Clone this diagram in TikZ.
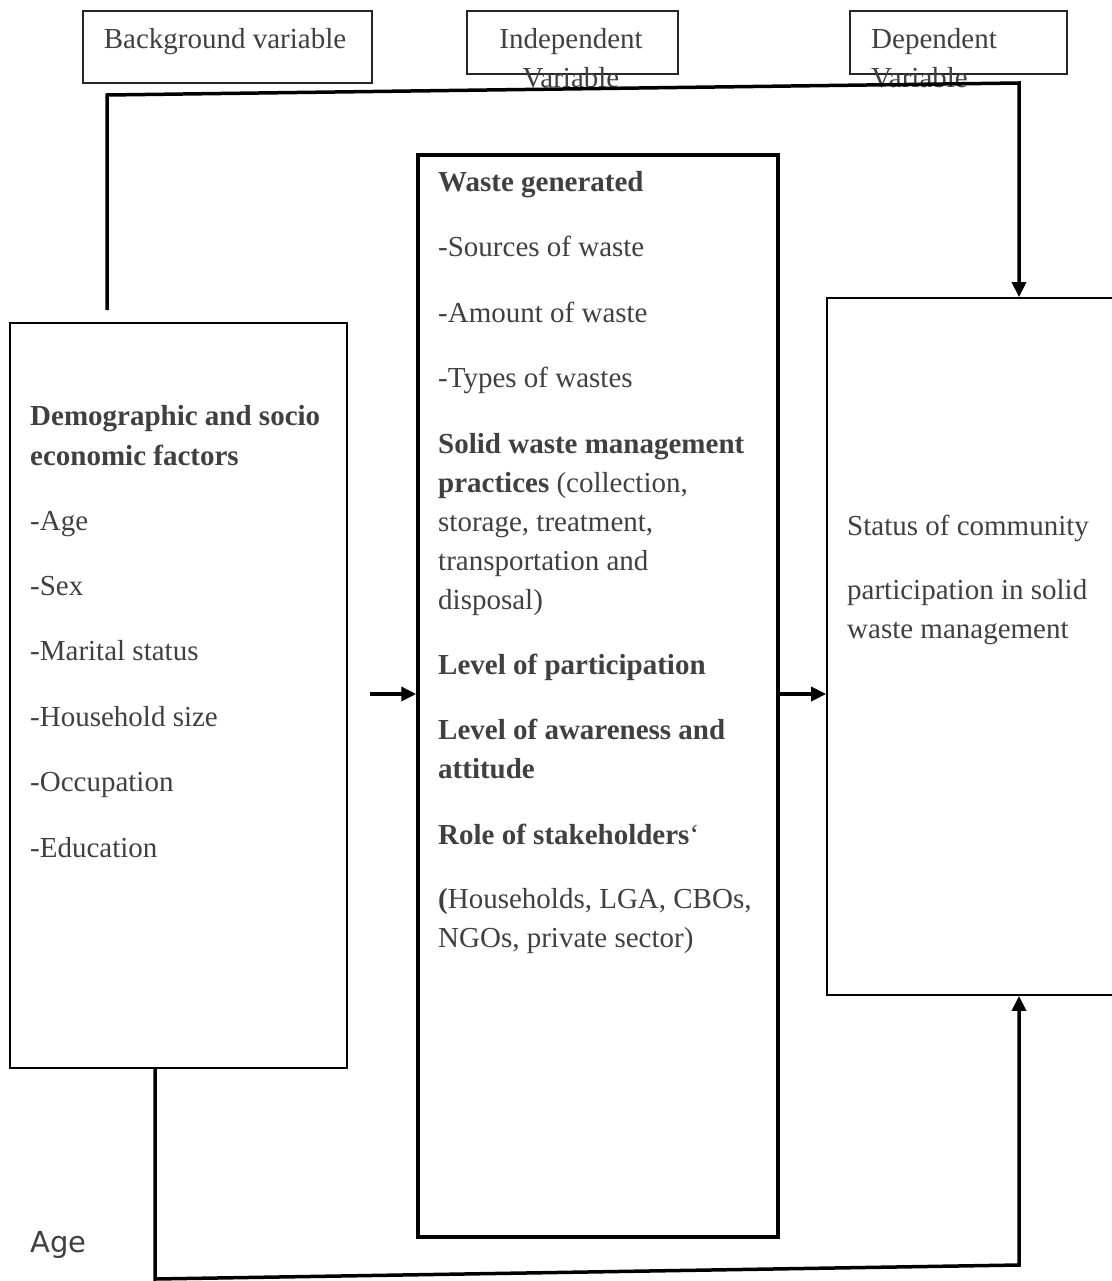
\documentclass[tikz,border=0pt]{standalone}
\usepackage{fontspec}
\setmainfont{Liberation Serif}
\newfontfamily\agefont{DejaVu Sans}
\usetikzlibrary{arrows.meta}
\definecolor{txt}{RGB}{64,64,64}
\begin{document}
\begin{tikzpicture}[x=1pt,y=-1pt,
  box/.style={draw=black,line width=1.8pt,fill=none,inner sep=0pt},
  hbox/.style={draw=black!85,line width=1.6pt,inner sep=0pt},
  midbox/.style={draw=black,line width=3.5pt,inner sep=0pt},
  conn/.style={draw=black,line width=3.5pt},
  arr/.style={conn,-{Triangle[length=15pt,width=14pt]}},
  tl/.style={anchor=base west,inner sep=0pt,text=txt,font=\fontsize{29}{39}\selectfont},
  tc/.style={anchor=base,inner sep=0pt,text=txt,font=\fontsize{29}{39}\selectfont}]
\useasboundingbox[fill=white] (0,0) rectangle (1111,1281);

% header boxes
\node[hbox,minimum width=289pt,minimum height=72pt] (hbg) at (227.5,47) {};
\node[hbox,minimum width=211pt,minimum height=63pt] (hind) at (572.5,42.5) {};
\node[hbox,minimum width=217pt,minimum height=63pt] (hdep) at (958.5,42.5) {};
\node[tc] (hbgt) at (225,49) {Background variable};
\node[tc] (hind1) at (571,49) {Independent};
\node[tc] (hind2) at (571,88) {Variable};
\node[tl] (hdep1) at (871,49) {Dependent};
\node[tl] (hdep2) at (871,88) {Variable};

% main boxes
\node[box,minimum width=337pt,minimum height=745pt] (left) at (178.5,695.5) {};
\node[midbox,minimum width=360pt,minimum height=1082pt] (mid) at (598,696) {};
\node[box,minimum width=313pt,minimum height=697pt] (right) at (983.5,646.5) {};

% left texts
\node[tl] (l1) at (30,425) {\textbf{Demographic and socio}};
\node[tl] (l2) at (30,465) {\textbf{economic factors}};
\node[tl] (l3) at (30,530) {-Age};
\node[tl] (l4) at (30,595) {-Sex};
\node[tl] (l5) at (30,660) {-Marital status};
\node[tl] (l6) at (30,726) {-Household size};
\node[tl] (l7) at (30,791) {-Occupation};
\node[tl] (l8) at (30,857) {-Education};

% middle texts
\node[tl] (m1) at (438,192) {\textbf{Waste generated}};
\node[tl] (m2) at (438,257) {-Sources of waste};
\node[tl] (m3) at (438,322) {-Amount of waste};
\node[tl] (m4) at (438,387) {-Types of wastes};
\node[tl] (m5) at (438,453) {\textbf{Solid waste management}};
\node[tl] (m6) at (438,492) {\textbf{practices} (collection,};
\node[tl] (m7) at (438,531) {storage, treatment,};
\node[tl] (m8) at (438,570) {transportation and};
\node[tl] (m9) at (438,609) {disposal)};
\node[tl] (m10) at (438,674) {\textbf{Level of participation}};
\node[tl] (m11) at (438,739) {\textbf{Level of awareness and}};
\node[tl] (m12) at (438,778) {\textbf{attitude}};
\node[tl] (m13) at (438,844) {\textbf{Role of stakeholders}‘};
\node[tl] (m14) at (438,908) {\textbf{(}Households, LGA, CBOs,};
\node[tl] (m15) at (438,947) {NGOs, private sector)};

% right texts
\node[tl] (r1) at (847,535) {Status of community};
\node[tl] (r2) at (847,599) {participation in solid};
\node[tl] (r3) at (847,638) {waste management};

% stray label
\node[anchor=base west,inner sep=0pt,text=txt,font=\agefont\fontsize{29}{34}\selectfont] (age) at (30,1252) {Age};

% connectors
\coordinate (topstart) at (107,310);
\coordinate (tc1) at (107,95);
\coordinate (tc2) at (1019,83);
\coordinate (lin) at (370,694);
\coordinate (bc1) at (155,1279);
\coordinate (bc2) at (1019,1265);

\draw[arr,line join=miter] (topstart) -- (tc1) -- (tc2) -- (tc2 |- right.north);
\draw[arr] (lin) -- (mid.west |- lin);
\draw[arr] (mid.east |- lin) -- (right.west |- lin);
\draw[arr,line join=miter] (155,0 |- left.south) -- (bc1) -- (bc2) -- (bc2 |- right.south);
\end{tikzpicture}
\end{document}
